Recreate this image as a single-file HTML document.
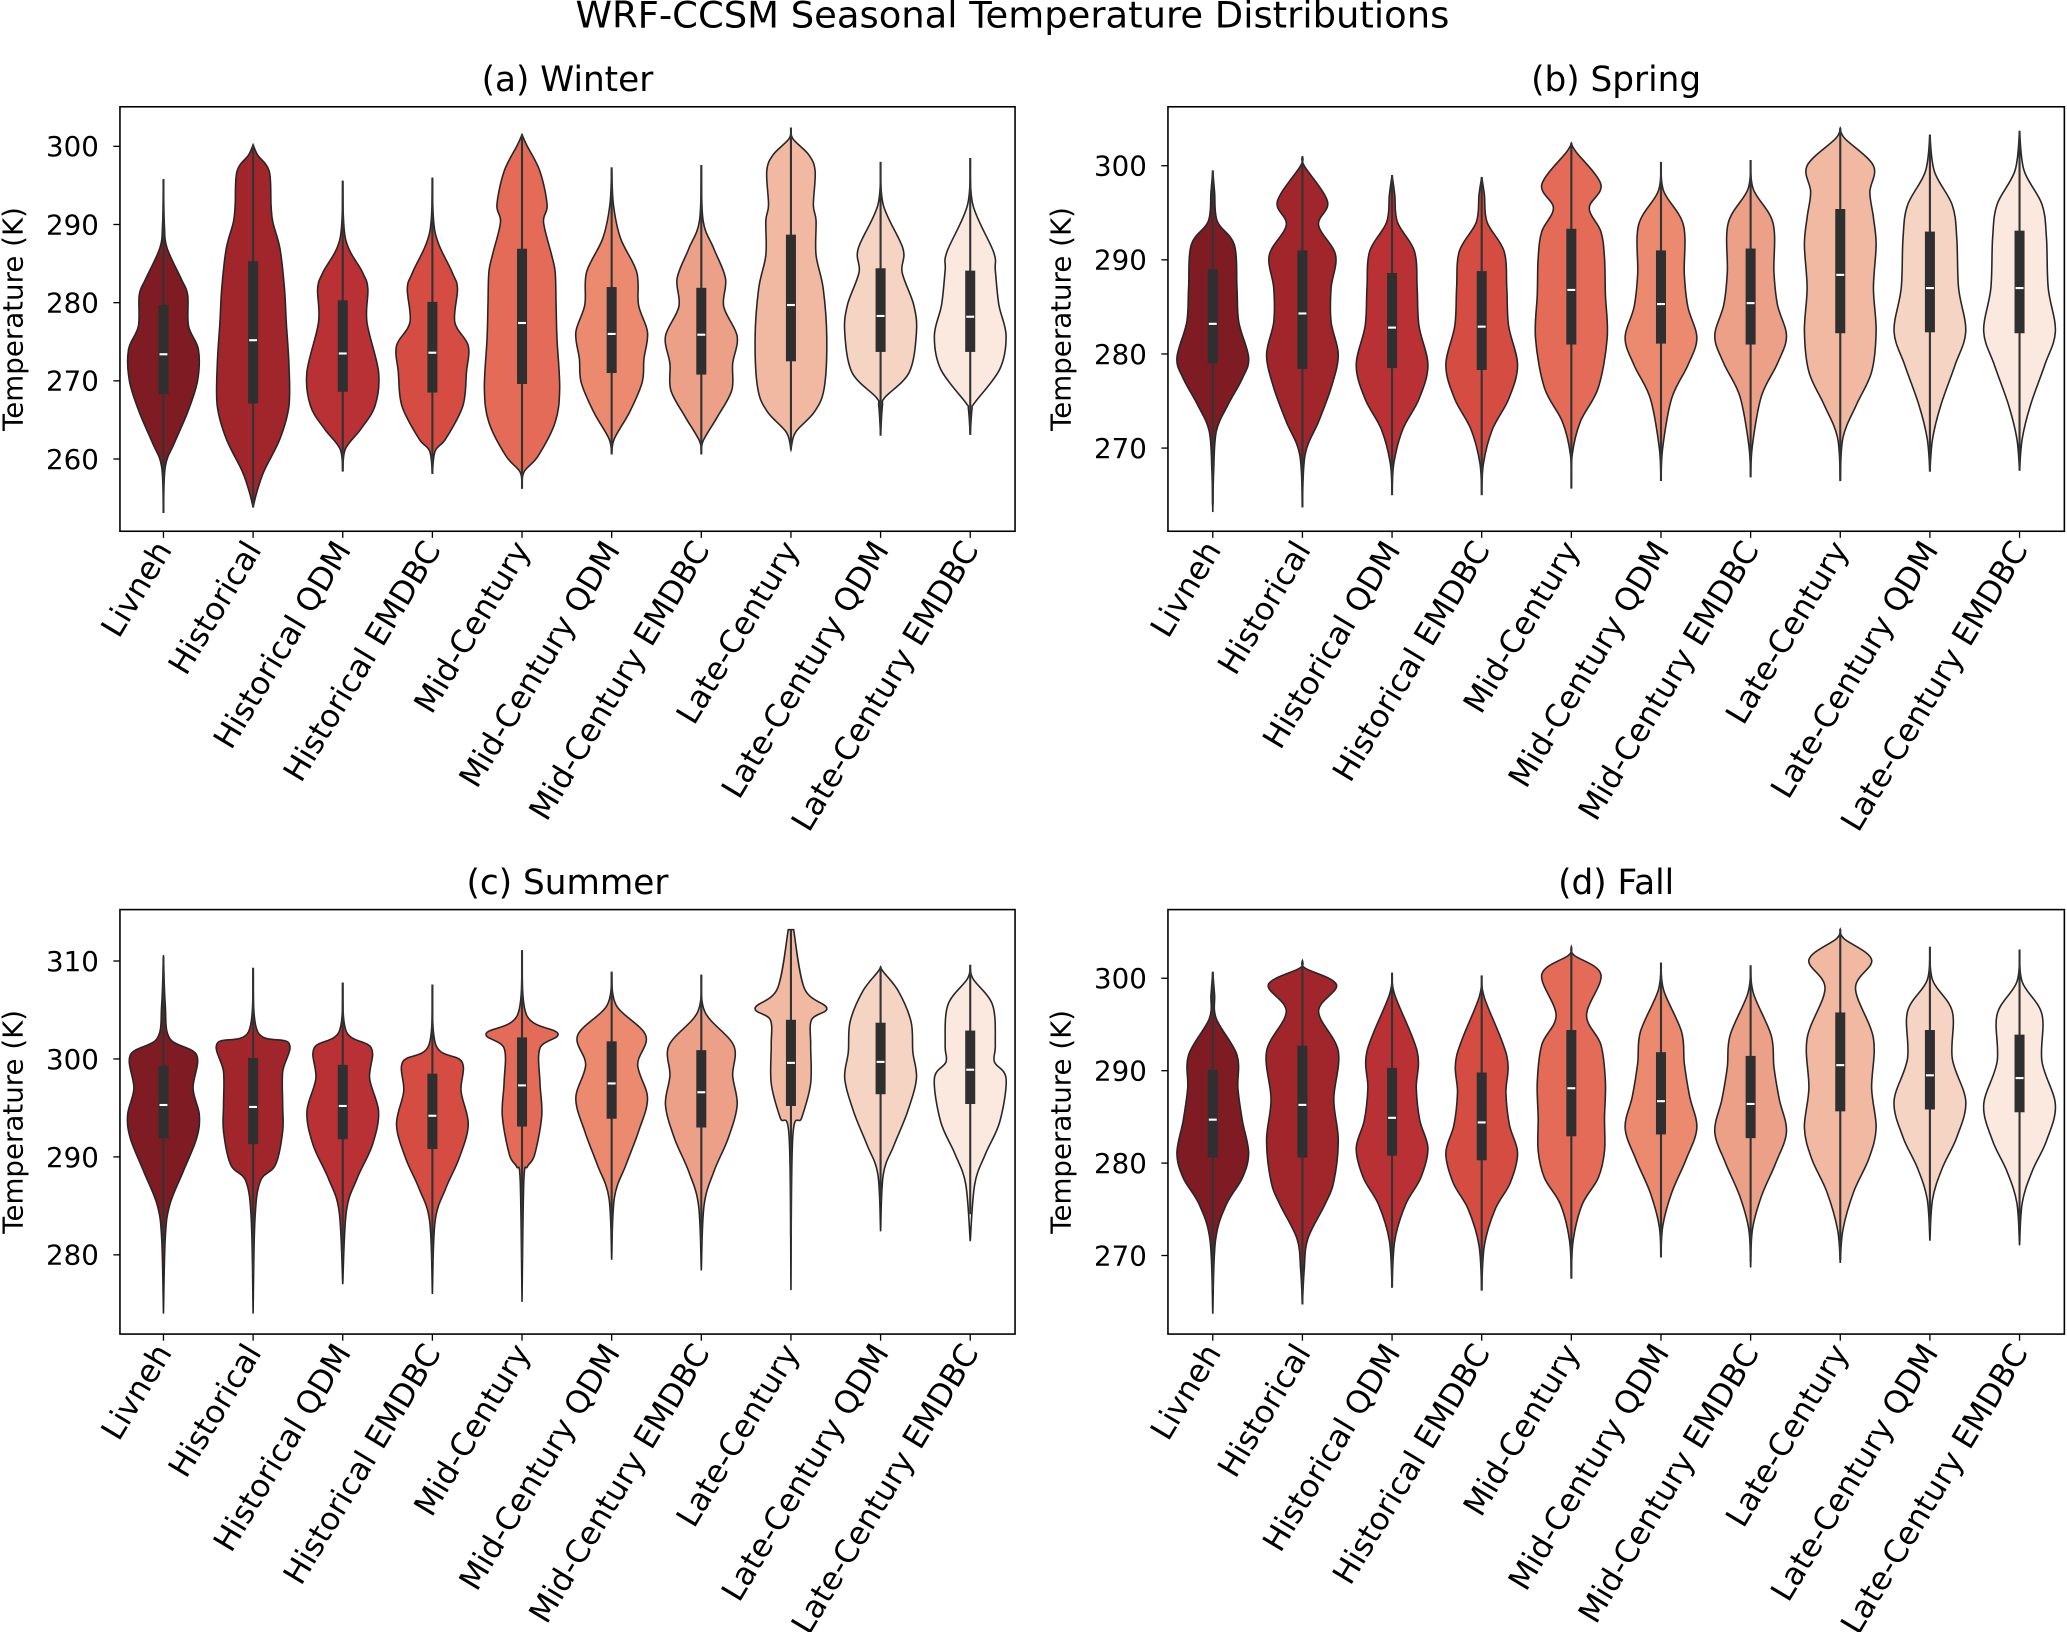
<!DOCTYPE html>
<html><head><meta charset="utf-8"><style>
html,body{margin:0;padding:0;background:#fff;}
svg{display:block;font-family:"DejaVu Sans","Liberation Sans",sans-serif;}
</style></head><body>
<svg id="fig" width="2067" height="1632" viewBox="0 0 1568 1238" preserveAspectRatio="none" xmlns="http://www.w3.org/2000/svg">
<rect x="0" y="0" width="1568" height="1238" fill="#fff"/>
<text x="768" y="21" font-size="28" text-anchor="middle" fill="#000">WRF-CCSM Seasonal Temperature Distributions</text>
</svg>
<script>
const categories=["Livneh","Historical","Historical QDM","Historical EMDBC","Mid-Century","Mid-Century QDM","Mid-Century EMDBC","Late-Century","Late-Century QDM","Late-Century EMDBC"];
const colors=["#7f1b22","#a0262b","#ba3135","#d54d42","#e36b57","#eb8a6e","#eca088","#f2b9a2","#f6d4c4","#fbe8df"];

// Winter
const winterQ1=[268.3,267.1,268.6,268.5,269.6,271.0,270.8,272.5,273.7,273.7];
const winterMed=[273.4,275.2,273.5,273.6,277.4,276.0,275.9,279.7,278.3,278.2];
const winterQ3=[279.7,285.3,280.3,280.1,286.9,282.0,281.9,288.7,284.4,284.1];
const winterTemps=[
[253.1,259,262,266,270,274,277,281,283,287,290,295.8],
[253.8,255.7,258.4,262.6,266.8,272,277.5,281.8,286.9,290.3,292.5,296.8,298.9,300.2],
[258.4,261.3,263.8,266.8,271.1,277.5,281.8,283.9,288.2,295.6],
[258.1,261,262.6,266.8,271.1,274.5,277.5,281.8,283.9,289,296],
[256.2,258.3,260.4,264.7,269,275.4,279.7,283.9,286.1,290.3,292.5,296.8,300.2,301.5],
[260.6,262.6,266,269.8,272.8,276.2,279.7,283.9,288.2,292.5,297.3],
[260.6,262.3,265.4,268.8,272.2,275.7,279.5,283.1,286.9,290.5,297.6],
[261.2,263.4,266,269,275.4,281.8,286.1,290.5,292.5,296.8,298.9,301,302.4],
[263,266.8,267.9,271.1,276.2,279.7,283.9,286.9,292.5,298],
[263.1,266.4,267.2,271.5,275.8,279.7,284.1,286.5,292.5,298.5]];
const winterWidths=[
[0,0.02,0.12,0.27,0.38,0.39,0.28,0.27,0.2,0.04,0.01,0],
[0,0.04,0.12,0.3,0.40,0.40,0.37,0.35,0.3,0.22,0.2,0.18,0.05,0],
[0,0.03,0.2,0.36,0.40,0.27,0.28,0.22,0.03,0],
[0,0.03,0.15,0.34,0.38,0.40,0.25,0.28,0.22,0.03,0],
[0,0.02,0.18,0.37,0.42,0.39,0.38,0.37,0.33,0.24,0.28,0.2,0.05,0],
[0,0.03,0.2,0.34,0.36,0.40,0.3,0.28,0.1,0.02,0],
[0,0.02,0.18,0.34,0.35,0.40,0.25,0.27,0.14,0.02,0],
[0,0.05,0.26,0.37,0.40,0.36,0.28,0.28,0.25,0.27,0.2,0.02,0],
[0,0.02,0.05,0.32,0.40,0.37,0.24,0.25,0.03,0],
[0,0.02,0.05,0.33,0.40,0.32,0.28,0.26,0.03,0]];

// Spring
const springQ1=[279.0,278.4,278.5,278.3,281.0,281.1,281.0,282.2,282.3,282.2];
const springMed=[283.2,284.3,282.8,282.9,286.8,285.3,285.4,288.4,287.0,287.0];
const springQ3=[289.0,291.0,288.6,288.8,293.3,291.0,291.2,295.4,293.0,293.1];
const springTemps=[
[263.2,267.6,271.8,274.6,277.4,279.6,283.4,287,291.6,294.1,297.2,299.5],
[263.7,269.3,272.8,276.4,279.9,283.4,287,290.5,293.7,296.2,300,301],
[265,268.4,272,275.2,278.8,283,287,290.9,294,296.9,299],
[265,268.4,272,275.2,278.8,283,287,290.9,294,296.9,298.8],
[265.7,269.3,272.8,276.4,281.7,286.3,290.2,293,295.5,298,301.5,302.4],
[266.5,270.1,275.3,278.8,281.7,285,288.5,293.7,297.3,300.4],
[266.9,270.3,275.5,279,281.9,285.2,288.7,293.9,297.5,300.6],
[266.5,271.1,274.6,278.1,282.4,287,291.6,294.5,297.2,300,302.9,304],
[267.5,271,274.5,278.8,282.4,287,292.3,295.8,299.4,303.3],
[267.6,271,274.5,278.8,282.4,287,292.4,295.9,299.5,303.7]];
const springWidths=[
[0,0.01,0.04,0.17,0.33,0.40,0.29,0.27,0.24,0.05,0.02,0],
[0,0.03,0.18,0.32,0.40,0.32,0.32,0.37,0.18,0.28,0.02,0],
[0,0.02,0.12,0.30,0.40,0.30,0.28,0.25,0.06,0.03,0],
[0,0.02,0.12,0.30,0.40,0.30,0.28,0.25,0.06,0.03,0],
[0,0.01,0.1,0.3,0.40,0.38,0.37,0.33,0.2,0.33,0.05,0],
[0,0.02,0.12,0.30,0.40,0.30,0.26,0.25,0.03,0],
[0,0.02,0.12,0.30,0.40,0.30,0.26,0.25,0.03,0],
[0,0.03,0.18,0.35,0.40,0.37,0.40,0.37,0.33,0.37,0.05,0],
[0,0.03,0.12,0.28,0.40,0.32,0.30,0.25,0.05,0],
[0,0.03,0.12,0.28,0.40,0.32,0.30,0.25,0.05,0]];

// Summer
const summerQ1=[291.9,291.3,291.8,290.8,293.1,293.9,293.0,295.2,296.4,295.4];
const summerMed=[295.3,295.1,295.2,294.2,297.3,297.5,296.6,299.6,299.7,298.9];
const summerQ3=[299.3,300.1,299.4,298.5,302.2,301.8,300.9,304.0,303.7,302.9];
const summerTemps=[
[274,281.7,285.1,288.5,291.9,294.3,297,300.4,302.1,305.5,310.6],
[274,283.5,287.5,289.2,292.6,295.3,298.7,301.6,302.8,309.3],
[277,284.4,287.8,291.2,294.6,298,301.1,302.8,307.8],
[276,283.4,286.8,289.9,293.3,296.7,299.7,301.4,307.6],
[275.2,287.5,289,290.2,294.2,297.6,301.1,302.6,304.5,311.1],
[279.5,285.8,289.2,292.6,296,299.4,302.4,305.5,308.9],
[278.4,285,288.5,291.9,295.3,298.3,301.4,304.8,308.6],
[276.4,292,294,297.5,301.4,304,305.2,307.2,313.2],
[282.4,288.2,291.2,294.6,298,300.7,303.8,306.9,308.9,309.4],
[281.4,287.2,290.3,293.6,298,299.7,301.4,305.5,308.2,309.6]];
const summerWidths=[
[0,0.02,0.07,0.22,0.37,0.40,0.33,0.37,0.07,0.02,0],
[0,0.02,0.08,0.25,0.33,0.33,0.33,0.40,0.05,0],
[0,0.04,0.16,0.33,0.40,0.30,0.32,0.04,0],
[0,0.03,0.15,0.30,0.40,0.32,0.33,0.04,0],
[0,0.02,0.06,0.14,0.22,0.2,0.2,0.40,0.05,0],
[0,0.03,0.16,0.30,0.40,0.29,0.38,0.05,0],
[0,0.03,0.14,0.30,0.40,0.35,0.36,0.04,0],
[0,0.02,0.12,0.22,0.22,0.23,0.40,0.15,0.03,0],
[0,0.03,0.15,0.30,0.40,0.36,0.34,0.2,0.03,0],
[0,0.05,0.17,0.33,0.40,0.27,0.28,0.25,0.03,0]];

// Fall
const fallQ1=[280.6,280.6,280.8,280.3,282.9,283.1,282.7,285.6,285.8,285.5];
const fallMed=[284.7,286.3,284.9,284.4,288.1,286.7,286.4,290.6,289.5,289.2];
const fallQ3=[290.1,292.7,290.3,289.8,294.4,292.0,291.6,296.3,294.4,293.9];
const fallTemps=[
[263.7,271.6,275.5,278.4,281.1,284.6,288.1,291.7,295.6,298.2,300.7],
[264.7,268.5,271.8,275.5,278,282.5,286.9,292.1,296.4,299.3,301.1,301.9],
[266.5,271.6,275.5,278.4,281.6,284.6,288.1,292.1,298.2,300.6],
[266.2,271.1,275,277.9,281.1,284.1,287.6,291.6,297.9,300.3],
[267.5,271.6,275.5,278.4,281.3,284.9,288.8,292.8,296,300.4,302.5,303.4],
[269.8,273.2,276.8,280.4,283.8,287.2,290.8,294.2,298.7,301.7],
[268.7,272.8,276.4,280,283.4,286.9,290.4,293.8,298.4,301.4],
[269.2,272.8,276.9,280.5,283.8,288.1,293.5,298.9,302,304.3,305.3],
[271.6,276.1,279.5,282.8,286.7,291.3,296.4,299.8,303.4],
[271.1,275.7,279.1,282.4,286.3,291,296.1,299.6,303.1]];
const fallWidths=[
[0,0.03,0.15,0.33,0.40,0.33,0.28,0.27,0.04,0.02,0],
[0,0.02,0.06,0.25,0.35,0.40,0.35,0.40,0.18,0.38,0.03,0],
[0,0.03,0.15,0.32,0.40,0.31,0.27,0.28,0.03,0],
[0,0.03,0.15,0.32,0.40,0.31,0.27,0.28,0.03,0],
[0,0.02,0.12,0.30,0.37,0.37,0.38,0.33,0.17,0.33,0.03,0],
[0,0.02,0.12,0.28,0.40,0.32,0.26,0.23,0.03,0],
[0,0.02,0.12,0.28,0.40,0.32,0.26,0.23,0.03,0],
[0,0.03,0.15,0.32,0.40,0.35,0.37,0.17,0.35,0.04,0],
[0,0.03,0.14,0.30,0.40,0.25,0.25,0.03,0],
[0,0.03,0.14,0.30,0.40,0.25,0.25,0.03,0]];

const panels=[
 {key:"winter",title:"(a) Winter",L:91,R:770,T:81,B:403,x0:124,dx:68,tRef:300,yRef:111,k:5.93,ticks:[260,270,280,290,300],q1:winterQ1,med:winterMed,q3:winterQ3,temps:winterTemps,widths:winterWidths},
 {key:"spring",title:"(b) Spring",L:886,R:1566,T:81,B:403,x0:920,dx:68,tRef:300,yRef:125.7,k:7.14,ticks:[270,280,290,300],q1:springQ1,med:springMed,q3:springQ3,temps:springTemps,widths:springWidths},
 {key:"summer",title:"(c) Summer",L:91,R:770,T:690,B:1012,x0:124,dx:68,tRef:310,yRef:729,k:7.43,ticks:[280,290,300,310],q1:summerQ1,med:summerMed,q3:summerQ3,temps:summerTemps,widths:summerWidths},
 {key:"fall",title:"(d) Fall",L:886,R:1566,T:690,B:1012,x0:920,dx:68,tRef:300,yRef:742.1,k:7.01,ticks:[270,280,290,300],q1:fallQ1,med:fallMed,q3:fallQ3,temps:fallTemps,widths:fallWidths}
];
const NS="http://www.w3.org/2000/svg";
const svg=document.getElementById("fig");
function mk(tag,attrs,parent){const e=document.createElementNS(NS,tag);for(const a in attrs)e.setAttribute(a,attrs[a]);(parent||svg).appendChild(e);return e;}
function smooth(pts){let d="M"+pts[0][0].toFixed(2)+","+pts[0][1].toFixed(2);
 for(let i=0;i<pts.length-1;i++){const p0=pts[Math.max(0,i-1)],p1=pts[i],p2=pts[i+1],p3=pts[Math.min(pts.length-1,i+2)];
  const c1=[p1[0]+(p2[0]-p0[0])/6,p1[1]+(p2[1]-p0[1])/6],c2=[p2[0]-(p3[0]-p1[0])/6,p2[1]-(p3[1]-p1[1])/6];
  d+=" C"+c1[0].toFixed(2)+","+c1[1].toFixed(2)+" "+c2[0].toFixed(2)+","+c2[1].toFixed(2)+" "+p2[0].toFixed(2)+","+p2[1].toFixed(2);}
 return d;}
panels.forEach(p=>{
 const g=mk("g",{});
 
 
 const yS=t=>p.yRef+(p.tRef-t)*p.k;
 const xS=i=>p.x0+i*p.dx;
 const title=mk("text",{x:(p.L+p.R)/2,y:p.T-12,"font-size":26,"text-anchor":"middle",fill:"#000"},g);
 title.textContent=p.title;
 
 
 categories.forEach((c,i)=>{
  const x=xS(i);
  const temps=p.temps[i],ws=p.widths[i];
  const right=temps.map((t,j)=>[x+ws[j]*p.dx,yS(t)]);
  const left=temps.map((t,j)=>[x-ws[j]*p.dx,yS(t)]).reverse();
  const d=smooth(right)+" L"+smooth(left).slice(1)+" Z";
  const v=mk("path",{d:d,fill:colors[i],stroke:"#262626","stroke-width":1.2},g);
  
  
  const lo=temps[0],hi=temps[temps.length-1];
  const iqr=p.q3[i]-p.q1[i];
  const wlo=Math.max(lo,p.q1[i]-1.5*iqr),whi=Math.min(hi,p.q3[i]+1.5*iqr);
  const wl=mk("line",{x1:x,x2:x,y1:yS(whi),y2:yS(wlo),stroke:"#333","stroke-width":1.6},g);
  
  
  const bx=mk("rect",{x:x-3.8,width:7.6,y:yS(p.q3[i]),height:yS(p.q1[i])-yS(p.q3[i]),fill:"#2f2f2f"},g);
  
  
  const md=mk("line",{x1:x-3,x2:x+3,y1:yS(p.med[i]),y2:yS(p.med[i]),stroke:"#fff","stroke-width":1.6},g);
  
  
  mk("line",{x1:x,x2:x,y1:p.B,y2:p.B+5,stroke:"#000","stroke-width":1},g);
  const ax=x+7,ay=p.B+14;
  const lab=mk("text",{x:ax,y:ay,"font-size":24,"text-anchor":"end",fill:"#000",transform:"rotate(-59 "+ax+" "+ay+")"},g);
  lab.textContent=c;
  
  
 });
 p.ticks.forEach(t=>{
  const y=yS(t);
  mk("line",{x1:p.L-5,x2:p.L,y1:y,y2:y,stroke:"#000","stroke-width":1},g);
  const tl=mk("text",{x:p.L-16,y:y+7.5,"font-size":21,"text-anchor":"end",fill:"#000"},g);
  tl.textContent=t;
  
  
 });
 const tx=p.L-74,ty=(p.T+p.B)/2;
 const yl=mk("text",{x:tx,y:ty,"font-size":21,"text-anchor":"middle",fill:"#000",transform:"rotate(-90 "+tx+" "+ty+")"},g);
 yl.textContent="Temperature (K)";
 
 
 const fr=mk("rect",{x:p.L,y:p.T,width:p.R-p.L,height:p.B-p.T,fill:"none",stroke:"#000","stroke-width":1.2},g);
 
 
});
</script>
</body></html>
